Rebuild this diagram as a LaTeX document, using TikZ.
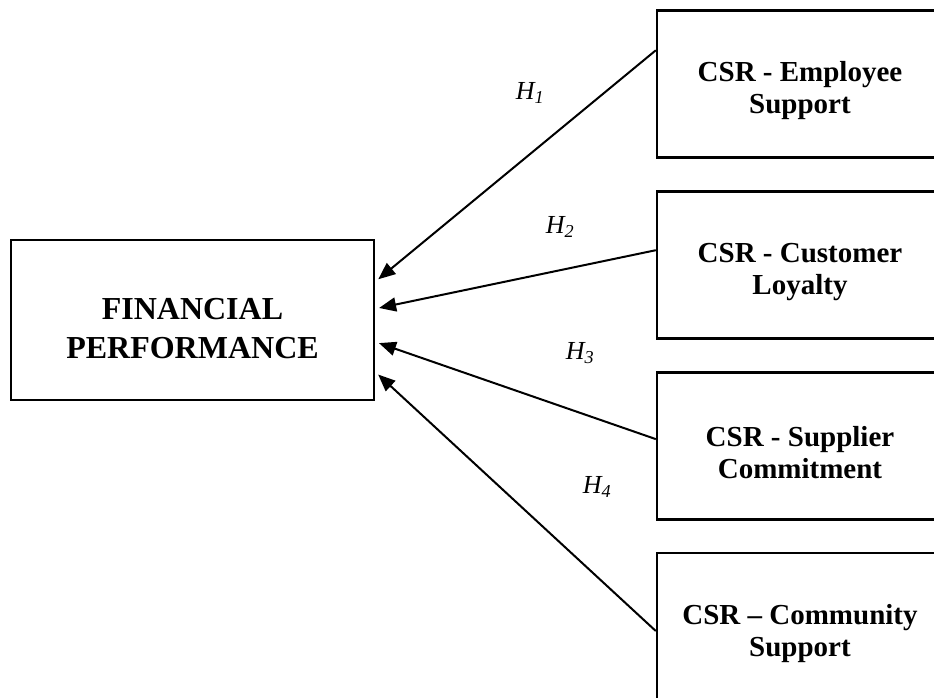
\documentclass[tikz,border=0pt]{standalone}
\usepackage{fontspec}
\setmainfont{Liberation Serif}
\usetikzlibrary{arrows.meta,positioning,calc}

\begin{document}
\begin{tikzpicture}[x=1pt, y=-1pt, >={Triangle[length=17pt,width=14pt]}, semithick, node distance=31.5pt]
\tikzset{
  csrbox/.style={draw=black, line width=2.4pt, minimum width=286pt, minimum height=147pt, inner sep=0pt},
  csrtext/.style={align=center, font=\fontsize{29}{32}\selectfont\bfseries, yshift=-7pt},
  finbox/.style={draw=black, line width=2.4pt, minimum width=363pt, minimum height=160pt, inner sep=0pt},
  fintext/.style={align=center, font=\fontsize{32}{39}\selectfont\bfseries, yshift=-9pt},
  link/.style={->, line width=2pt, shorten >=4pt},
  hyp/.style={font=\fontsize{26}{28}\selectfont\itshape}
}
\clip (0,0) rectangle (934,697);
\node[finbox, label={[fintext]center:{FINANCIAL\\PERFORMANCE}}] (fin) at (192.5,320) {};
\node[csrbox, label={[csrtext]center:{CSR - Employee\\Support}}]    (b1) at (800,84) {};
\node[csrbox, label={[csrtext]center:{CSR - Customer\\Loyalty}}]    (b2) [below=of b1] {};
\node[csrbox, label={[csrtext]center:{CSR - Supplier\\Commitment}}] (b3) [below=of b2] {};
\node[csrbox, label={[csrtext]center:{CSR -- Community\\Support}}]  (b4) [below=of b3] {};
% hypothesis labels
\node[hyp] (h1) at (530,93)  {H\textsubscript{1}};
\node[hyp] (h2) at (560,227) {H\textsubscript{2}};
\node[hyp] (h3) at (580,353) {H\textsubscript{3}};
\node[hyp] (h4) at (597,487) {H\textsubscript{4}};
\draw[link] ($(b1.north west)+(0,41)$) -- ($(fin.north east)+(0,43)$);
\draw[link] ($(b2.north west)+(0,60)$) -- ($(fin.north east)+(0,70)$);
\draw[link] ($(b3.north west)+(0,68)$) -- ($(fin.north east)+(0,103)$);
\draw[link] ($(b4.north west)+(0,79)$) -- ($(fin.north east)+(0,133)$);
\end{tikzpicture}
\end{document}
